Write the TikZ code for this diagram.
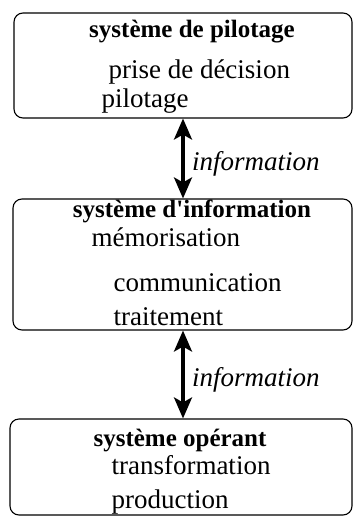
\documentclass[tikz,border=0pt]{standalone}
\usepackage{fontspec}
\setmainfont{Liberation Serif}
\usetikzlibrary{arrows.meta, positioning}

\begin{document}
\begin{tikzpicture}[x=1pt,y=-1pt,
		sysbox/.style={draw,line width=1.1pt,rounded corners=9pt},
		titletext/.style={anchor=base,font=\fontsize{25}{28}\selectfont\bfseries},
		itemtext/.style={anchor=base west,font=\fontsize{27}{30}\selectfont},
		infoarrow/.style={line width=3.5pt,{Stealth[length=21pt,width=18pt,inset=5pt]}-{Stealth[length=21pt,width=18pt,inset=5pt]}},
		infolabel/.style={anchor=west,xshift=4pt,yshift=-5pt,font=\fontsize{27}{30}\selectfont\itshape}]
	\useasboundingbox (0,0) rectangle (353,517);
	
	% SYSTEME DE PILOTAGE
	\node[sysbox,minimum width=338pt,minimum height=105pt] (pilot) at (183,65.5) {};
	\node[titletext] (pilotTitle) at (192,37) {système de pilotage};
	\node[itemtext] (pilotA) at (105,78) {prise de décision};
	\node[itemtext] (pilotB) at (98,107) {pilotage};
	
	% SYSTEME D'INFORMATION
	\node[sysbox,minimum width=339pt,minimum height=131pt] (info) at (182.5,264.5) {};
	\node[titletext] (infoTitle) at (192,217) {système d\textquotesingle information};
	\node[itemtext] (infoA) at (88,246) {mémorisation};
	\node[itemtext] (infoB) at (110,291) {communication};
	\node[itemtext] (infoC) at (110,325) {traitement};
	
	% SYSTEME OPERANT
	\node[sysbox,minimum width=342pt,minimum height=96pt] (oper) at (181,467) {};
	\node[titletext] (operTitle) at (180,446) {système opérant};
	\node[itemtext] (operA) at (108,474) {transformation};
	\node[itemtext] (operB) at (108,508) {production};
	
	% FLUX D'INFORMATION
	\draw[infoarrow] (pilot.south) -- (pilot.south |- info.north) node[midway,infolabel] {information};
	\draw[infoarrow] (info.south -| pilot.south) -- (pilot.south |- oper.north) node[midway,infolabel] {information};
\end{tikzpicture}
\end{document}
